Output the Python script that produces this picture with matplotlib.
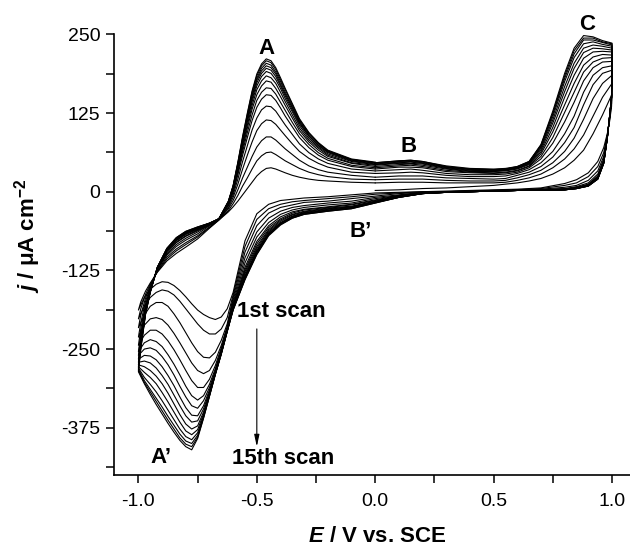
import numpy as np
import matplotlib
matplotlib.use('Agg')
import matplotlib.pyplot as plt

# 15 successive CV scans. Tables: one row per potential, one column per scan (1..15)

# anodic sweep 0 -> +1 V (column 1 = first sweep from the starting potential)
E_fwd_pos = [0.0, 0.1, 0.15, 0.2, 0.3, 0.4, 0.5, 0.55, 0.6, 0.65, 0.7, 0.75, 0.8, 0.84, 0.88, 0.92, 0.96, 1.0]
j_fwd_pos = [
    [2, 14, 19, 23, 29, 33, 36, 38, 40, 42, 43, 44, 45, 46, 46],
    [3, 15, 20, 25, 30, 35, 39, 41, 43, 45, 46, 47, 48, 49, 49],
    [4, 15, 20, 25, 31, 36, 39, 42, 44, 45, 47, 48, 49, 50, 50],
    [5, 15, 20, 25, 30, 34, 38, 40, 42, 44, 45, 46, 47, 48, 48],
    [6, 14, 18, 22, 26, 29, 32, 34, 36, 37, 38, 39, 39, 40, 41],
    [8, 14, 17, 21, 24, 27, 30, 31, 32, 33, 34, 35, 36, 36, 37],
    [10, 14, 17, 20, 24, 27, 29, 30, 32, 33, 33, 34, 35, 35, 36],
    [12, 15, 18, 21, 25, 28, 30, 31, 33, 34, 34, 35, 36, 36, 37],
    [14, 18, 22, 26, 29, 31, 33, 34, 36, 37, 38, 38, 39, 40, 40],
    [17, 22, 27, 31, 35, 38, 40, 41, 43, 44, 45, 46, 47, 48, 48],
    [21, 28, 34, 40, 46, 52, 56, 60, 63, 66, 69, 71, 73, 74, 75],
    [28, 38, 46, 55, 64, 77, 86, 95, 102, 109, 114, 119, 123, 125, 128],
    [38, 52, 64, 78, 92, 111, 126, 138, 150, 159, 167, 175, 180, 184, 188],
    [50, 68, 85, 102, 120, 142, 158, 172, 185, 196, 204, 213, 219, 224, 228],
    [66, 90, 115, 138, 158, 176, 190, 201, 212, 221, 228, 235, 241, 244, 248],
    [92, 120, 148, 170, 185, 197, 206, 214, 222, 228, 233, 238, 241, 244, 246],
    [122, 150, 172, 188, 197, 206, 212, 218, 223, 227, 231, 234, 237, 238, 240],
    [155, 172, 185, 193, 200, 207, 213, 217, 222, 225, 228, 231, 233, 235, 236],
]

# cathodic sweep +1 -> -1 V
E_rev = [1.0, 0.998, 0.99, 0.98, 0.965, 0.94, 0.9, 0.85, 0.8, 0.7, 0.6, 0.5, 0.4, 0.3, 0.2, 0.1,
         0.0, -0.1, -0.2, -0.3, -0.35, -0.4, -0.45, -0.5, -0.55, -0.6, -0.625, -0.65, -0.675,
         -0.7, -0.725, -0.75, -0.775, -0.8, -0.825, -0.85, -0.875, -0.9, -0.925, -0.95, -0.975, -1.0]
j_rev = [
    [155, 172, 185, 193, 200, 207, 213, 217, 222, 225, 228, 231, 233, 235, 236],
    [135, 140, 145, 148, 150, 150, 150, 150, 150, 150, 150, 150, 150, 150, 150],
    [112, 115, 117, 118, 119, 120, 120, 120, 120, 120, 120, 120, 120, 120, 120],
    [92, 90, 88, 87, 86, 85, 85, 85, 85, 85, 85, 85, 85, 85, 85],
    [70, 62, 56, 52, 49, 48, 47, 47, 46, 46, 46, 45, 45, 45, 45],
    [48, 40, 33, 28, 25, 24, 23, 22, 22, 21, 21, 21, 20, 20, 20],
    [30, 24, 18, 14, 12, 11, 11, 10, 10, 10, 10, 9, 9, 9, 9],
    [19, 14, 10, 8, 7, 6, 6, 6, 6, 5, 5, 5, 5, 5, 5],
    [13, 10, 7, 5, 4, 4, 4, 4, 3, 3, 3, 3, 3, 3, 3],
    [6, 5, 4, 3, 3, 3, 3, 3, 2, 2, 2, 2, 2, 2, 2],
    [4, 3, 2, 2, 2, 2, 2, 2, 2, 2, 2, 2, 2, 2, 2],
    [3, 2, 2, 1, 1, 1, 1, 1, 1, 1, 1, 1, 1, 1, 1],
    [2, 1, 1, 1, 0, 0, 0, 0, 0, 0, 0, 0, 0, 0, 0],
    [1, 0, 0, 0, 0, -1, -1, -1, -1, -1, -1, -1, -1, -1, -1],
    [0, 0, -1, -1, -2, -2, -2, -2, -3, -3, -3, -3, -3, -3, -3],
    [-1, -2, -3, -5, -6, -6, -7, -7, -8, -8, -8, -9, -9, -9, -9],
    [-2, -4, -7, -9, -11, -13, -14, -15, -16, -16, -17, -17, -17, -18, -18],
    [-5, -8, -11, -15, -18, -20, -21, -23, -24, -24, -25, -26, -26, -27, -27],
    [-8, -11, -15, -18, -21, -24, -25, -26, -27, -28, -29, -30, -30, -31, -31],
    [-10, -14, -17, -22, -25, -28, -29, -31, -32, -33, -34, -34, -35, -36, -36],
    [-12, -16, -21, -25, -29, -32, -34, -36, -37, -39, -39, -40, -41, -42, -42],
    [-14, -20, -25, -31, -36, -40, -43, -45, -47, -49, -50, -51, -51, -52, -53],
    [-20, -27, -34, -42, -49, -54, -57, -60, -62, -64, -66, -67, -68, -69, -70],
    [-35, -44, -54, -64, -72, -79, -83, -87, -90, -93, -94, -96, -97, -99, -100],
    [-78, -87, -96, -105, -113, -120, -124, -127, -130, -133, -135, -136, -138, -139, -140],
    [-160, -164, -168, -172, -176, -179, -181, -182, -184, -185, -186, -186, -187, -188, -188],
    [-186, -200, -210, -214, -216, -218, -219, -220, -220, -221, -221, -221, -222, -222, -222],
    [-199, -218, -236, -244, -248, -251, -253, -254, -255, -256, -256, -257, -257, -258, -258],
    [-203, -226, -255, -268, -276, -281, -284, -286, -287, -288, -289, -289, -290, -290, -290],
    [-200, -226, -264, -284, -298, -306, -311, -315, -318, -320, -322, -323, -324, -325, -325],
    [-195, -220, -263, -289, -311, -324, -332, -340, -345, -350, -353, -356, -358, -359, -360],
    [-188, -210, -254, -284, -311, -331, -344, -356, -364, -372, -378, -383, -387, -390, -392],
    [-178, -198, -240, -272, -300, -324, -340, -355, -366, -377, -386, -394, -400, -405, -410],
    [-167, -186, -224, -256, -284, -309, -326, -343, -356, -369, -380, -389, -396, -401, -405],
    [-157, -174, -208, -240, -267, -291, -309, -326, -340, -354, -366, -377, -385, -391, -395],
    [-149, -164, -194, -225, -251, -274, -291, -308, -323, -337, -350, -362, -371, -377, -382],
    [-144, -158, -182, -212, -237, -259, -275, -292, -306, -320, -334, -347, -357, -363, -368],
    [-143, -156, -176, -203, -226, -246, -262, -278, -292, -305, -319, -332, -342, -348, -353],
    [-147, -160, -176, -200, -220, -238, -252, -267, -280, -293, -305, -318, -328, -333, -338],
    [-155, -168, -182, -202, -220, -235, -248, -261, -272, -284, -295, -306, -314, -318, -322],
    [-168, -182, -196, -212, -228, -240, -250, -260, -269, -278, -287, -295, -300, -303, -305],
    [-188, -202, -216, -231, -244, -254, -260, -266, -271, -275, -278, -280, -282, -284, -286],
]

# anodic sweep -1 -> 0 V
E_fwd_neg = [-1.0, -0.99, -0.97, -0.95, -0.92, -0.88, -0.84, -0.8, -0.75, -0.7, -0.66, -0.62, -0.6,
             -0.58, -0.56, -0.54, -0.52, -0.5, -0.48, -0.46, -0.44, -0.42, -0.4, -0.38, -0.35,
             -0.32, -0.28, -0.24, -0.2, -0.1, 0.0]
j_fwd_neg = [
    [-188, -202, -216, -231, -244, -254, -260, -266, -271, -275, -278, -280, -282, -284, -286],
    [-175, -186, -196, -208, -218, -226, -230, -235, -238, -241, -244, -245, -247, -249, -250],
    [-158, -163, -169, -174, -179, -183, -185, -188, -189, -191, -192, -193, -194, -194, -195],
    [-145, -147, -149, -152, -154, -155, -156, -157, -158, -158, -159, -159, -159, -160, -160],
    [-128, -127, -126, -124, -123, -123, -122, -122, -121, -121, -121, -120, -120, -120, -120],
    [-110, -107, -104, -101, -99, -97, -95, -94, -93, -92, -92, -91, -91, -90, -90],
    [-98, -94, -91, -87, -84, -81, -80, -78, -77, -76, -75, -75, -74, -73, -73],
    [-88, -84, -81, -77, -74, -71, -70, -68, -67, -66, -65, -65, -64, -63, -63],
    [-75, -72, -70, -67, -64, -62, -61, -60, -59, -58, -58, -57, -57, -56, -56],
    [-58, -57, -56, -54, -53, -53, -52, -52, -51, -51, -51, -50, -50, -50, -50],
    [-45, -45, -44, -44, -44, -44, -44, -43, -43, -43, -43, -43, -43, -43, -43],
    [-32, -30, -27, -25, -22, -21, -20, -19, -18, -17, -17, -16, -16, -15, -15],
    [-24, -19, -14, -9, -5, -1, 1, 3, 5, 6, 7, 8, 9, 9, 10],
    [-15, -6, 3, 12, 20, 27, 31, 34, 37, 40, 42, 43, 44, 46, 47],
    [-5, 9, 22, 36, 48, 58, 64, 69, 73, 77, 80, 82, 84, 86, 88],
    [5, 22, 39, 58, 73, 86, 94, 101, 106, 111, 115, 117, 120, 123, 125],
    [15, 36, 56, 79, 98, 113, 122, 131, 137, 143, 147, 151, 154, 158, 160],
    [25, 49, 71, 97, 117, 134, 145, 154, 162, 168, 173, 177, 180, 184, 187],
    [32, 57, 81, 108, 130, 147, 158, 168, 176, 183, 188, 192, 196, 200, 203],
    [37, 62, 87, 114, 136, 154, 165, 176, 184, 191, 196, 200, 204, 208, 211],
    [38, 63, 87, 113, 135, 153, 164, 174, 181, 188, 193, 197, 201, 205, 208],
    [36, 59, 82, 107, 128, 145, 155, 164, 172, 178, 183, 187, 190, 194, 197],
    [33, 54, 75, 98, 117, 133, 142, 151, 158, 164, 168, 171, 175, 178, 181],
    [30, 49, 68, 89, 106, 120, 129, 137, 143, 148, 152, 155, 158, 162, 164],
    [26, 43, 59, 76, 91, 103, 110, 117, 122, 127, 130, 133, 135, 138, 140],
    [23, 37, 50, 64, 76, 86, 92, 97, 101, 105, 108, 110, 112, 114, 116],
    [20, 31, 41, 53, 62, 70, 75, 79, 82, 85, 88, 89, 91, 93, 94],
    [18, 27, 35, 45, 52, 58, 62, 66, 69, 71, 73, 74, 76, 77, 78],
    [17, 24, 31, 39, 45, 50, 53, 56, 58, 60, 62, 63, 64, 65, 66],
    [15, 20, 26, 31, 36, 40, 42, 45, 46, 48, 49, 50, 51, 51, 52],
    [14, 19, 23, 29, 33, 36, 38, 40, 42, 43, 44, 45, 46, 46, 47],
]

x_ticks = [-1.0, -0.5, 0.0, 0.5, 1.0]
y_ticks = [-375, -250, -125, 0, 125, 250]

plt.rcParams['font.family'] = 'Liberation Sans'
plt.rcParams['mathtext.fontset'] = 'custom'
plt.rcParams['mathtext.it'] = 'Liberation Sans:italic:bold'
plt.rcParams['mathtext.rm'] = 'Liberation Sans:bold'
plt.rcParams['axes.unicode_minus'] = False

fig = plt.figure(figsize=(6.3, 5.49), dpi=100)
ax = fig.add_axes([0.181, 0.1348, 0.819, 0.8027])

jp = np.array(j_fwd_pos)
jr = np.array(j_rev)
jn = np.array(j_fwd_neg)
E_loop = np.concatenate([E_fwd_pos, E_rev, E_fwd_neg])
for k in range(jp.shape[1]):
    j_loop = np.concatenate([jp[:, k], jr[:, k], jn[:, k]])
    ax.plot(E_loop, j_loop, color='black', lw=0.8, clip_on=False)

ax.set_xlim(-1.103, 1.076)
ax.set_ylim(-450, 250)
ax.set_xticks(x_ticks)
ax.set_xticklabels(['%.1f' % v for v in x_ticks])
ax.set_xticks([-0.75, -0.25, 0.25, 0.75], minor=True)
ax.set_yticks(y_ticks)
ax.set_yticks([-437.5, -312.5, -187.5, -62.5, 62.5, 187.5], minor=True)
ax.tick_params(which='both', direction='out', length=6, width=1.1, labelsize=14)
ax.tick_params(axis='x', pad=7)
ax.tick_params(axis='y', pad=4)
for s in ['top', 'right']:
    ax.spines[s].set_visible(False)
for s in ['left', 'bottom']:
    ax.spines[s].set_linewidth(1.2)

ax.set_xlabel(r'$\it{E}$ / V vs. SCE', fontsize=16, fontweight='bold')
ax.xaxis.set_label_coords(0.51, -0.116)
ax.set_ylabel(r'$\it{j}$ / μA cm$\mathrm{^{-2}}$', fontsize=16, fontweight='bold')
ax.yaxis.set_label_coords(-0.137, 0.542)

lab = dict(fontsize=16, fontweight='bold', ha='center', va='center')
ax.text(-0.46, 228, 'A', **lab)
ax.text(0.142, 72, 'B', **lab)
ax.text(0.893, 266, 'C', clip_on=False, **lab)
ax.text(-0.06, -64, 'B\u2019', **lab)
ax.text(-0.905, -422, 'A\u2019', **lab)
ax.text(-0.585, -191, '1st scan', fontsize=16, fontweight='bold', ha='left', va='center')
ax.text(-0.605, -424, '15th scan', fontsize=16, fontweight='bold', ha='left', va='center')
ax.annotate('', xy=(-0.5, -405), xytext=(-0.5, -218),
            arrowprops=dict(arrowstyle='-|>,head_length=0.7,head_width=0.15',
                            color='black', lw=0.8, shrinkA=0, shrinkB=0))

fig.savefig('out.png', dpi=100)
